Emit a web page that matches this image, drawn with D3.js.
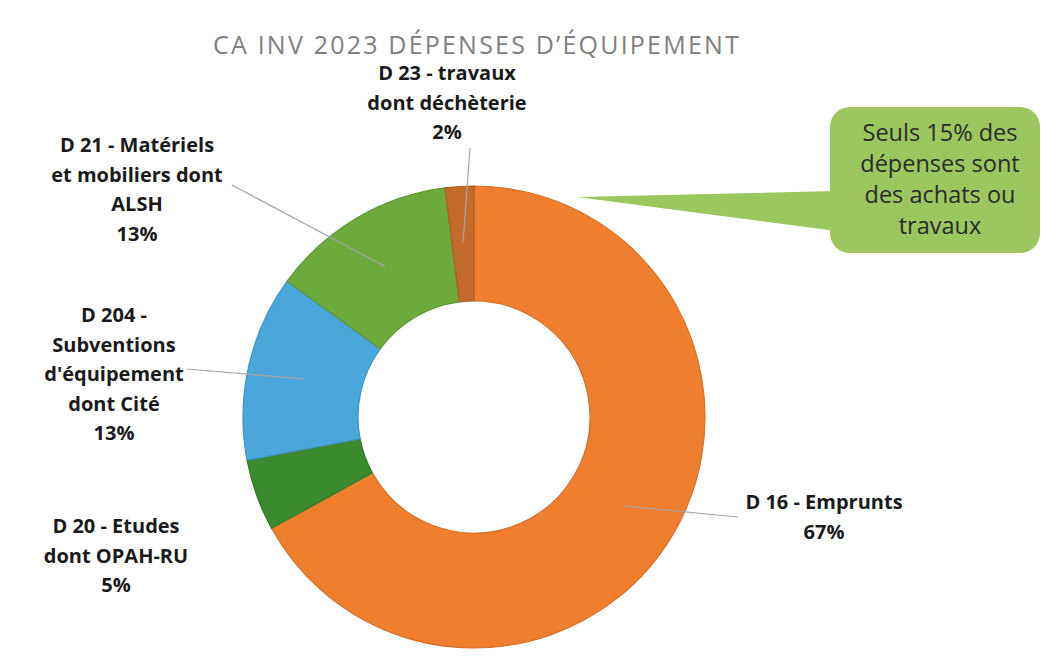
<!DOCTYPE html>
<html lang="fr">
<head>
<meta charset="utf-8">
<script src="https://cdn.jsdelivr.net/npm/d3@7"></script>
<style>
  html, body { margin: 0; padding: 0; background: #fff; }
  svg { display: block; font-family: "Open Sans", Lato, sans-serif; }
</style>
</head>
<body>
<svg id="chart" width="1045" height="671"></svg>
<script>
// Investment spending by chapter (CA 2023), share of total in %
const codes   = ["D 16", "D 20", "D 204", "D 21", "D 23"];
const labels  = [
  ["D 16 - Emprunts"],
  ["D 20 - Etudes", "dont OPAH-RU"],
  ["D 204 -", "Subventions", "d'équipement", "dont Cité"],
  ["D 21 - Matériels", "et mobiliers dont", "ALSH"],
  ["D 23 - travaux", "dont déchèterie"]
];
const shares  = [67, 5, 13, 13, 2];
const colors  = ["#ef7f2f", "#3b8a2f", "#4ba6dc", "#6cab3b", "#c46a2b"];

const chartTitle = "CA INV 2023 DÉPENSES D’ÉQUIPEMENT";
const noteLines  = ["Seuls 15% des", "dépenses sont", "des achats ou", "travaux"];

const data = codes.map((c, i) => ({ code: c, lines: labels[i], value: shares[i], color: colors[i] }));

const svg = d3.select("#chart");
const cx = 474, cy = 417, rOuter = 231, rInner = 116;

// Title
svg.append("text")
  .attr("x", 477).attr("y", 54)
  .attr("text-anchor", "middle")
  .attr("fill", "#7f7f7f")
  .attr("font-size", 25)
  .attr("letter-spacing", 2.2)
  .text(chartTitle);

// Callout with a pointer towards the ring
const note = svg.append("g");
note.append("path")
  .attr("d", "M577,197 L836,191 L836,231 Z")
  .attr("fill", "#9cc65e");
note.append("rect")
  .attr("x", 830).attr("y", 107).attr("width", 210).attr("height", 146)
  .attr("rx", 20).attr("ry", 20)
  .attr("fill", "#9cc65e");
note.selectAll("text").data(noteLines).join("text")
  .attr("x", 940).attr("y", (d, i) => 141 + i * 31)
  .attr("text-anchor", "middle")
  .attr("fill", "#2b2b2b")
  .attr("font-size", 23.5)
  .text(d => d);

// Donut
const pie = d3.pie().value(d => d.value).sort(null).startAngle(0).endAngle(2 * Math.PI);
const arcs = pie(data);
const arc = d3.arc().innerRadius(rInner).outerRadius(rOuter);
const mid = d3.arc().innerRadius(175).outerRadius(175);

const ring = svg.append("g").attr("transform", `translate(${cx},${cy})`);
ring.selectAll("path").data(arcs).join("path")
  .attr("d", arc)
  .attr("fill", d => d.data.color)
  .attr("stroke", d => d3.color(d.data.color).darker(0.35))
  .attr("stroke-width", 1.2);

// Label layout: anchor of the leader line, text centre and first baseline
const layout = {
  "D 16":  { anchor: [738, 517], x: 824, y: 509 },
  "D 20":  { anchor: null,       x: 116, y: 533 },
  "D 204": { anchor: [187, 369], x: 114, y: 322 },
  "D 21":  { anchor: [232, 185], x: 137, y: 152 },
  "D 23":  { anchor: [470, 148], x: 447, y: 80 }
};
const lineH = 29.5;

const lbl = svg.append("g");
arcs.forEach(a => {
  const L = layout[a.data.code];
  if (L.anchor) {
    const [mx, my] = mid.centroid(a);
    lbl.append("line")
      .attr("x1", L.anchor[0]).attr("y1", L.anchor[1])
      .attr("x2", cx + mx).attr("y2", cy + my)
      .attr("stroke", "#a6a6a6")
      .attr("stroke-width", 1.2);
  }
  const lines = a.data.lines.concat([a.data.value + "%"]);
  lbl.append("g").selectAll("text").data(lines).join("text")
    .attr("x", L.x).attr("y", (d, i) => L.y + i * lineH)
    .attr("text-anchor", "middle")
    .attr("font-weight", "bold")
    .attr("font-size", 20)
    .attr("fill", "#1a1a1a")
    .text(d => d);
});
</script>
</body>
</html>
